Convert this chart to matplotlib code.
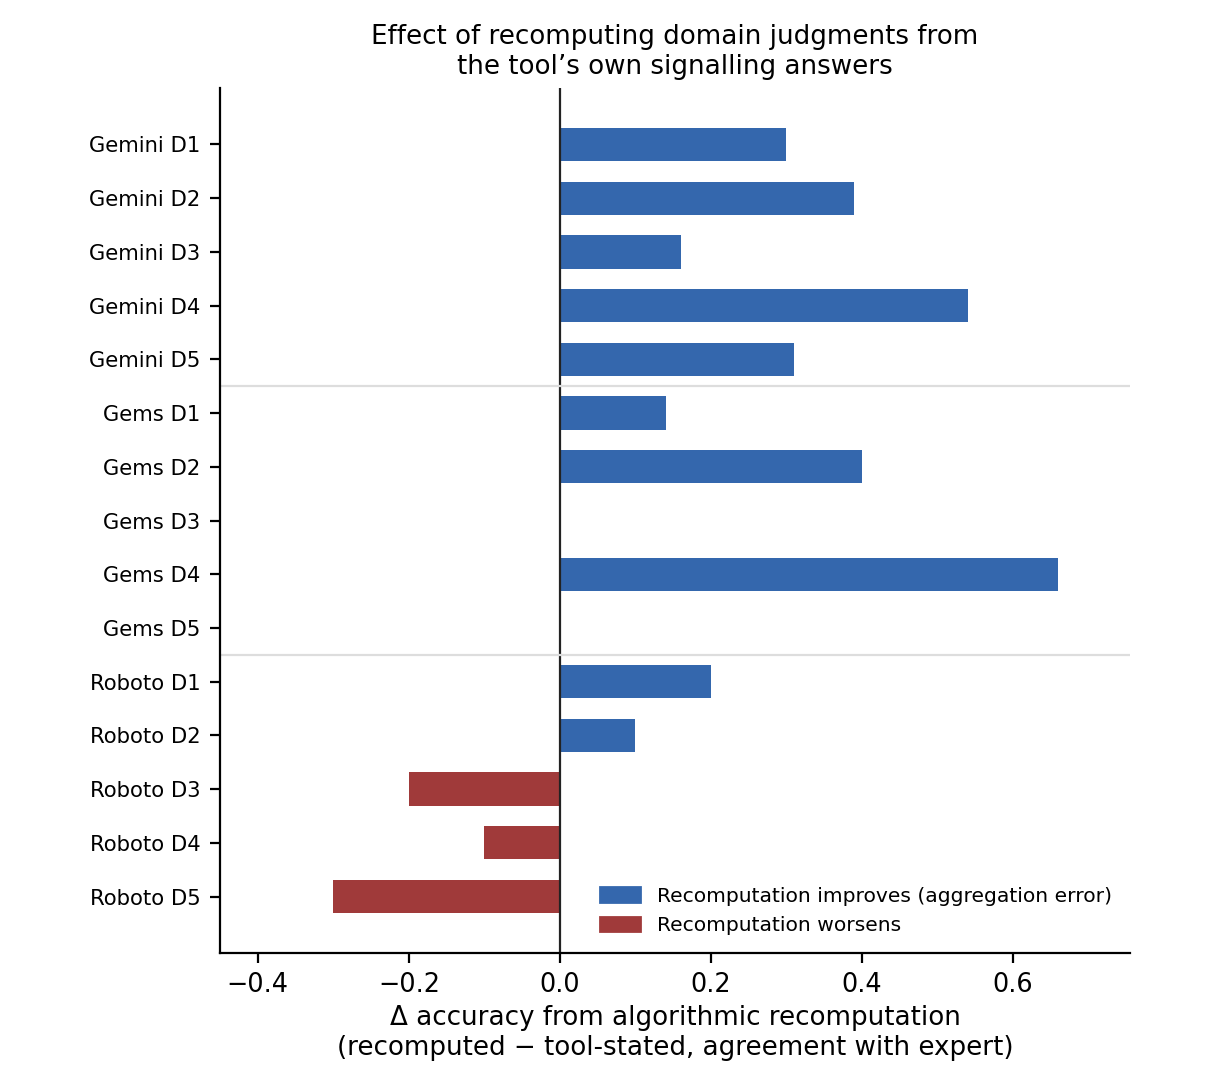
import matplotlib
matplotlib.use("Agg")
import matplotlib.pyplot as plt
from matplotlib.patches import Patch

tools = ["Gemini", "Gems", "Roboto"]
domains = ["D1", "D2", "D3", "D4", "D5"]
labels = [f"{t} {d}" for t in tools for d in domains]

# delta accuracy per tool/domain
delta = [0.30, 0.39, 0.16, 0.54, 0.31,
         0.14, 0.40, 0.00, 0.66, 0.00,
         0.20, 0.10, -0.20, -0.10, -0.30]

blue = "#3467ad"
red = "#a03a3a"

fig = plt.figure(figsize=(6.055, 5.435), dpi=200)
ax = fig.add_axes([0.1817, 0.1233, 0.7513, 0.7957])

pos = list(range(len(labels)))
colors = [blue if v >= 0 else red for v in delta]
ax.barh(pos, delta, height=0.62, color=colors)

ax.axvline(0, color="#222222", linewidth=0.8)
for b in [4.5, 9.5]:
    ax.axhline(b, color="#dddddd", linewidth=0.8)

ax.set_yticks(pos)
ax.set_yticklabels(labels, fontsize=7.6)
ax.set_ylim(len(labels) - 1 + 1.05, -1.05)
ax.set_xlim(-0.45, 0.755)
ax.set_xticks([-0.4, -0.2, 0.0, 0.2, 0.4, 0.6])
ax.tick_params(axis="x", labelsize=9.2)

ax.spines["top"].set_visible(False)
ax.spines["right"].set_visible(False)

ax.set_xlabel("Δ accuracy from algorithmic recomputation\n(recomputed − tool-stated, agreement with expert)",
              fontsize=9.4, labelpad=2.5)
ax.set_title("Effect of recomputing domain judgments from\nthe tool’s own signalling answers",
             fontsize=9.4, pad=5)

handles = [Patch(color=blue, label="Recomputation improves (aggregation error)"),
           Patch(color=red, label="Recomputation worsens")]
ax.legend(handles=handles, loc="lower right", frameon=False, fontsize=7.3)

fig.savefig("out.png", dpi=200)
